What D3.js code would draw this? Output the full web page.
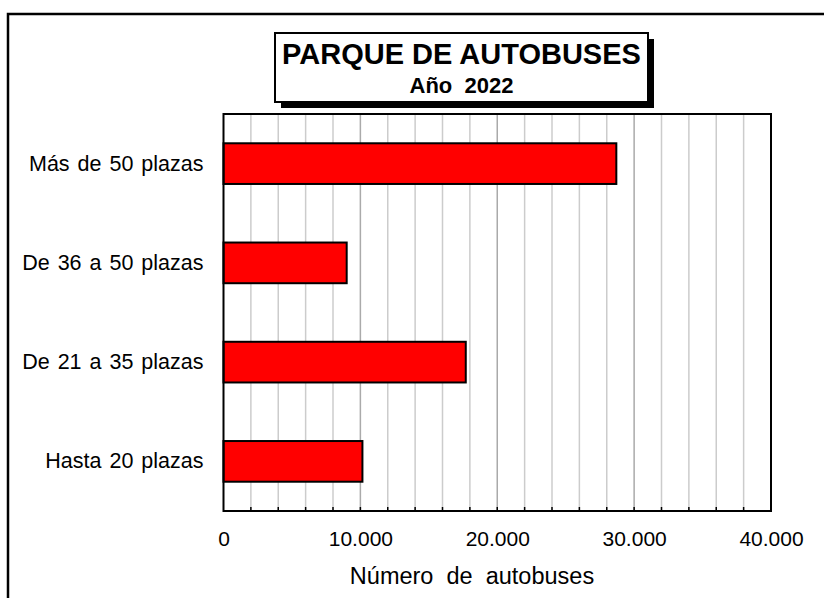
<!DOCTYPE html>
<html>
<head>
<meta charset="utf-8">
<script src="https://cdn.jsdelivr.net/npm/d3@7"></script>
<style>
  body { margin: 0; background: #fff; }
  text { font-family: "Liberation Sans", Arial, sans-serif; fill: #000; }
</style>
</head>
<body>
<div id="chart"></div>
<script>
// Data
const categories = ["Más de 50 plazas", "De 36 a 50 plazas", "De 21 a 35 plazas", "Hasta 20 plazas"];
const values = [28700, 9000, 17700, 10150];
const xTicks = [0, 10000, 20000, 30000, 40000];
const chartTitle = "PARQUE DE AUTOBUSES";
const chartSubtitle = "Año  2022";
const xTitle = "Número  de  autobuses";

const width = 824, height = 598;
const margin = { top: 114, right: 53, bottom: 87, left: 223.5 };
const innerW = width - margin.left - margin.right;
const innerH = height - margin.top - margin.bottom;

const es = d3.formatLocale({ decimal: ",", thousands: ".", grouping: [3], currency: ["", " €"] });
const fmt = es.format(",.0f");

const svg = d3.select("#chart").append("svg")
  .attr("width", width)
  .attr("height", height);

// outer frame (runs off the page on right and bottom)
svg.append("rect")
  .attr("x", 8).attr("y", 14)
  .attr("width", 900).attr("height", 700)
  .attr("fill", "none")
  .attr("stroke", "#000")
  .attr("stroke-width", 2.5);

const g = svg.append("g")
  .attr("transform", `translate(${margin.left},${margin.top})`);

// scales
const x = d3.scaleLinear().domain([0, 40000]).range([0, innerW]);
const y = d3.scaleBand().domain(categories).range([0, innerH])
  .paddingInner(0.59).paddingOuter(0.295);

// gridlines every 2000
const gridVals = d3.range(2000, 40000, 2000);
g.append("g").selectAll("line")
  .data(gridVals)
  .join("line")
  .attr("x1", d => x(d)).attr("x2", d => x(d))
  .attr("y1", 0).attr("y2", innerH)
  .attr("stroke", d => d % 10000 === 0 ? "#aaaaaa" : "#cccccc")
  .attr("stroke-width", 1.5);

// small inner ticks on bottom axis
g.append("g").selectAll("line")
  .data(gridVals)
  .join("line")
  .attr("x1", d => x(d)).attr("x2", d => x(d))
  .attr("y1", innerH).attr("y2", innerH - 4)
  .attr("stroke", "#000")
  .attr("stroke-width", 1.5);

// bars
g.append("g").selectAll("rect")
  .data(values)
  .join("rect")
  .attr("x", x(0))
  .attr("y", (d, i) => y(categories[i]))
  .attr("width", d => x(d) - x(0))
  .attr("height", y.bandwidth())
  .attr("fill", "#ff0000")
  .attr("stroke", "#000")
  .attr("stroke-width", 2);

// plot border
g.append("rect")
  .attr("width", innerW).attr("height", innerH)
  .attr("fill", "none")
  .attr("stroke", "#000")
  .attr("stroke-width", 2);

// x axis labels
const xAxis = d3.axisBottom(x).tickValues(xTicks).tickFormat(fmt).tickSize(0).tickPadding(20);
g.append("g")
  .attr("transform", `translate(0,${innerH})`)
  .call(xAxis)
  .call(a => a.select(".domain").remove())
  .selectAll("text")
  .attr("font-size", 21)
  .attr("font-family", "Liberation Sans, Arial, sans-serif")
  .attr("fill", "#000");

// y axis labels
const yAxis = d3.axisLeft(y).tickSize(0).tickPadding(20);
g.append("g")
  .call(yAxis)
  .call(a => a.select(".domain").remove())
  .selectAll("text")
  .attr("font-size", 21.5)
  .attr("word-spacing", 2)
  .attr("font-family", "Liberation Sans, Arial, sans-serif")
  .attr("fill", "#000");

// x axis title
svg.append("text")
  .attr("x", 472).attr("y", 584)
  .attr("text-anchor", "middle")
  .attr("font-size", 23.5)
  .style("white-space", "pre")
  .text(xTitle);

// title box with shadow
const tb = { x: 275, y: 33, w: 373, h: 69 };
svg.append("rect")
  .attr("x", tb.x + 6).attr("y", tb.y + 6)
  .attr("width", tb.w).attr("height", tb.h)
  .attr("fill", "#000");
svg.append("rect")
  .attr("x", tb.x).attr("y", tb.y)
  .attr("width", tb.w).attr("height", tb.h)
  .attr("fill", "#fff")
  .attr("stroke", "#000")
  .attr("stroke-width", 2);
svg.append("text")
  .attr("x", tb.x + tb.w / 2).attr("y", 64)
  .attr("text-anchor", "middle")
  .attr("font-size", 29)
  .attr("font-weight", "bold")
  .text(chartTitle);
svg.append("text")
  .attr("x", tb.x + tb.w / 2).attr("y", 92.5)
  .attr("text-anchor", "middle")
  .attr("font-size", 22)
  .attr("font-weight", "bold")
  .style("white-space", "pre")
  .text(chartSubtitle);
</script>
</body>
</html>
